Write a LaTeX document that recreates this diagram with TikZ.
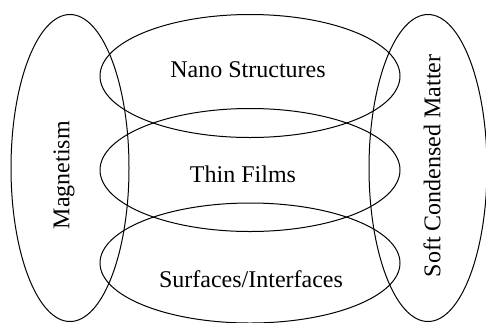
\documentclass[tikz,border=0pt]{standalone}
\usepackage{fontspec}
\setmainfont{Liberation Serif}
\usetikzlibrary{shapes.geometric}
\begin{document}
\begin{tikzpicture}[x=1pt,y=-1pt,
area/.style={draw,ellipse,line width=1pt,inner sep=0pt},
topic/.style={area,minimum width=300pt,minimum height=123pt},
field/.style={area,rotate=90,minimum width=307pt,minimum height=118pt},
lab/.style={inner sep=0pt,font=\fontsize{24}{28}\selectfont}
]
\useasboundingbox (0,0) rectangle (486,322);
\node[field] (mag)  at (70,168)  {};
\node[field] (soft) at (428,168) {};
\node[topic] (nano) at (250,76)  {};
\node[topic] (thin) at (250,170) {};
\node[topic,minimum height=120pt] (surf) at (250,263) {};
% labels
\node[lab,rotate=90] (magl)  at (64,175)  {Magnetism};
\node[lab,rotate=90] (softl) at (432,166) {Soft Condensed Matter};
\node[lab] (nanol) at (248,70)  {Nano Structures};
\node[lab] (thinl) at (243,174) {Thin Films};
\node[lab] (surfl) at (251,279) {Surfaces/Interfaces};
\end{tikzpicture}
\end{document}
